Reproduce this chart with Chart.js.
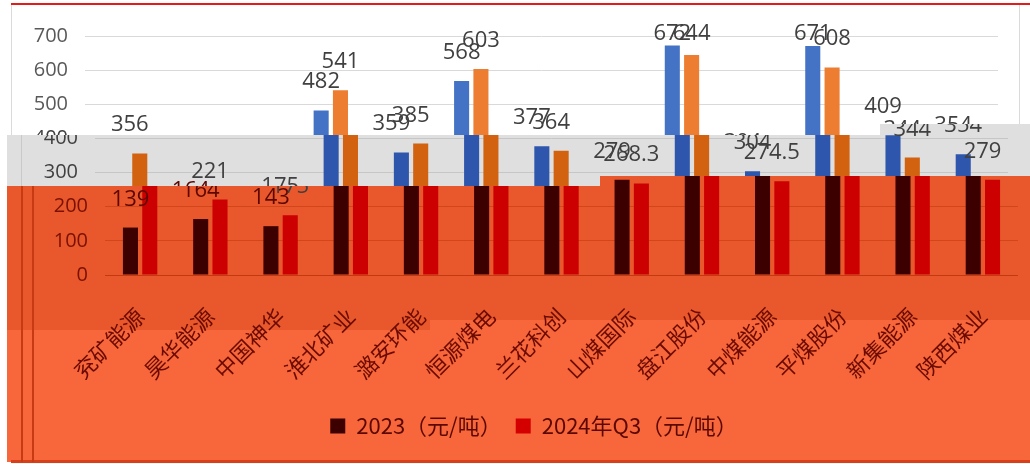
<!DOCTYPE html>
<html>
<head>
<meta charset="utf-8">
<script src="https://cdn.jsdelivr.net/npm/chart.js@4.4.1/dist/chart.umd.min.js"></script>
<style>
  html, body { margin: 0; padding: 0; background: #fff; }
  #wrap { width: 1030px; height: 464px; }
</style>
</head>
<body>
<div id="wrap"><canvas id="c" width="1030" height="464"></canvas></div>
<script>
const categories = ['兖矿能源', '昊华能源', '中国神华', '淮北矿业', '潞安环能', '恒源煤电', '兰花科创',
  '山煤国际', '盘江股份', '中煤能源', '平煤股份', '新集能源', '陕西煤业'];
const values2023 = [139, 164, 143, 482, 359, 568, 377, 279, 672, 304, 671, 409, 354];
const values2024Q3 = [356, 221, 175, 541, 385, 603, 364, 268.3, 644, 274.5, 608, 344, 279];
const seriesNames = ['2023（元/吨）', '2024年Q3（元/吨）'];
const yMax = 700;
const yStep = 100;

// the picture is split in bands: white on top, grey in the middle, orange-red below,
// each band showing the chart with its own horizontal offset
function grayTop(x) { return x >= 880 ? 124 : 135; }
function redTop(x) { return x >= 600 ? 176 : 186; }

function bandGradient(chart, x, cols) {
  const g = chart.ctx.createLinearGradient(0, 0, 0, 464);
  const a = grayTop(x) / 464, b = redTop(x) / 464;
  g.addColorStop(0, cols[0]); g.addColorStop(a, cols[0]);
  g.addColorStop(a, cols[1]); g.addColorStop(b, cols[1]);
  g.addColorStop(b, cols[2]); g.addColorStop(1, cols[2]);
  return g;
}

function barColor(cols) {
  return ctx => {
    const chart = ctx.chart;
    if (!chart.chartArea) return cols[2];
    const x = chart.scales.x.getPixelForValue(ctx.dataIndex);
    return bandGradient(chart, x, cols);
  };
}

function drawBands(c) {
  c.fillStyle = '#ffffff';
  c.fillRect(0, 0, 1030, 464);
  c.fillStyle = '#E31B1B';
  c.fillRect(11, 3, 1019, 2);
  c.fillStyle = '#DADADA';
  c.fillRect(11, 5, 1, 130);
  c.fillRect(1019, 5, 1, 119);
  c.fillStyle = '#DFDFDF';
  c.fillRect(7, 135, 873, 51);
  c.fillRect(880, 124, 150, 62);
  c.fillStyle = '#E8582C';
  c.fillRect(7, 186, 593, 144);
  c.fillRect(600, 176, 430, 144);
  c.fillStyle = '#F7673B';
  c.fillRect(7, 330, 423, 132);
  c.fillRect(430, 320, 600, 142);
  c.fillStyle = '#D8401C';
  c.fillRect(11, 460, 1019, 3);
  c.fillStyle = '#C83A12';
  c.fillRect(21, 186, 2, 276);
  c.fillRect(32, 186, 2, 276);
  c.fillStyle = '#C9C9C9';
  c.fillRect(21, 135, 1, 51);
}

function clipDraw(c, snap, rects, dx) {
  c.save();
  c.beginPath();
  rects.forEach(r => c.rect(r[0], r[1], r[2], r[3]));
  c.clip();
  c.drawImage(snap, dx, 0);
  c.restore();
}

const composite = {
  id: 'composite',
  afterDraw(chart) {
    const cv = chart.canvas, c = chart.ctx;
    const snap = document.createElement('canvas');
    snap.width = cv.width; snap.height = cv.height;
    snap.getContext('2d').drawImage(cv, 0, 0);
    c.save();
    c.setTransform(1, 0, 0, 1, 0, 0);
    c.clearRect(0, 0, cv.width, cv.height);
    drawBands(c);
    clipDraw(c, snap, [[0, 6, 880, 129], [880, 6, 150, 118]], -20);
    clipDraw(c, snap, [[7, 135, 593, 51], [600, 135, 280, 41], [880, 124, 150, 52]], -10);
    clipDraw(c, snap, [[7, 186, 593, 274], [600, 176, 430, 284]], 0);
    c.restore();
  }
};

const valueLabels = {
  id: 'valueLabels',
  afterDatasetsDraw(chart) {
    const c = chart.ctx;
    c.save();
    c.font = '22px "Open Sans", "Noto Sans", sans-serif';
    c.textAlign = 'center';
    c.textBaseline = 'alphabetic';
    chart.data.datasets.forEach((ds, i) => {
      chart.getDatasetMeta(i).data.forEach((el, j) => {
        const y = Math.max(el.y - 22, 40);
        c.fillStyle = (y - 8) > redTop(el.x) ? '#5C0800' : '#404040';
        c.fillText(String(ds.data[j]), el.x, y);
      });
    });
    c.restore();
  }
};

new Chart(document.getElementById('c'), {
  type: 'bar',
  data: {
    labels: categories,
    datasets: [
      { label: seriesNames[0], data: values2023,
        backgroundColor: barColor(['#4472C4', '#2E56AC', '#3C0000']) },
      { label: seriesNames[1], data: values2024Q3,
        backgroundColor: barColor(['#ED7D31', '#D2620F', '#CC0000']) }
    ]
  },
  options: {
    responsive: false,
    animation: false,
    layout: { padding: { top: 36, left: 50, right: 12, bottom: 17 } },
    datasets: { bar: { categoryPercentage: 0.55, barPercentage: 0.78 } },
    plugins: {
      tooltip: { enabled: false },
      legend: {
        position: 'bottom',
        labels: {
          boxWidth: 15, boxHeight: 15, padding: 14,
          color: '#5A0800',
          font: { family: '"Noto Sans CJK SC", sans-serif', size: 22 },
          generateLabels(chart) {
            const fills = ['#3C0000', '#D40000'];
            return chart.data.datasets.map((ds, i) => ({
              text: ds.label, fillStyle: fills[i], strokeStyle: fills[i],
              lineWidth: 0, datasetIndex: i, fontColor: '#5A0800'
            }));
          }
        }
      }
    },
    scales: {
      x: {
        grid: { display: false },
        border: { display: false },
        afterFit(s) { s.height = 126; },
        ticks: {
          minRotation: 45, maxRotation: 45, padding: 20,
          color: '#6B0A00',
          font: { family: '"Noto Sans CJK SC", sans-serif', size: 22 }
        }
      },
      y: {
        min: 0, max: yMax,
        afterFit(s) { s.width = 55; },
        border: { display: false },
        grid: {
          drawTicks: false,
          color: ctx => {
            const v = ctx.tick.value;
            if (v >= 500) return '#D9D9D9';
            if (v >= 300) return '#C6C6C6';
            if (v === 0) return '#C43A10';
            return '#D2461A';
          }
        },
        ticks: {
          stepSize: yStep, padding: 17,
          color: ctx => {
            const v = ctx.tick.value;
            if (v >= 500) return '#595959';
            if (v >= 300) return '#404040';
            return '#7A1000';
          },
          font: { family: '"Open Sans", "Noto Sans", sans-serif', size: 20 }
        }
      }
    }
  },
  plugins: [valueLabels, composite]
});
</script>
</body>
</html>
